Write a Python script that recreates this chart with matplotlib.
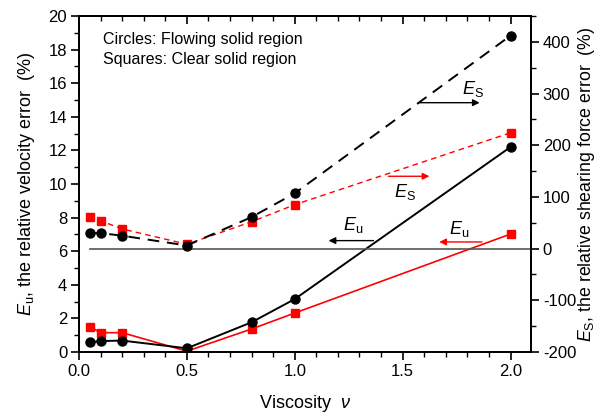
import matplotlib
matplotlib.use('Agg')
import matplotlib.pyplot as plt
from matplotlib.ticker import MultipleLocator, FormatStrFormatter

plt.rcParams['font.family'] = ['Liberation Sans', 'DejaVu Sans']
plt.rcParams['mathtext.fontset'] = 'custom'
plt.rcParams['mathtext.rm'] = 'Liberation Sans'
plt.rcParams['mathtext.it'] = 'Liberation Sans:italic'
plt.rcParams['axes.unicode_minus'] = False

# viscosity values
nu = [0.05, 0.1, 0.2, 0.5, 0.8, 1.0, 2.0]

# E_u (%), left axis
eu_flowing = [0.58, 0.65, 0.68, 0.22, 1.77, 3.15, 12.2]
eu_clear = [1.51, 1.15, 1.15, 0.05, 1.37, 2.32, 7.02]

# E_S (%), right axis
es_flowing = [30, 30, 25, 6, 61, 107, 412]
es_clear = [62, 54, 38, 8.5, 52, 85, 224]

zero_line_x = [0.05, 2.095]
zero_line_y = [0, 0]

fig = plt.figure(figsize=(5.98, 4.16), dpi=100)
ax = fig.add_axes([79 / 598, 1 - 352 / 416, 452 / 598, 336 / 416])
ax2 = ax.twinx()

ax.set_xlim(0, 2.095)
ax.set_ylim(0, 20)
ax2.set_ylim(-200, 450)

ax.plot(nu, eu_flowing, color='black', lw=1.4, marker='o', ms=6.5, zorder=3)
ax.plot(nu, eu_clear, color='red', lw=1.2, marker='s', ms=5.3, zorder=2)

ax2.plot(zero_line_x, zero_line_y, color='#555555', lw=1.2, zorder=1)
ax2.plot(nu, es_flowing, color='black', lw=1.4, ls=(0, (6, 4)), marker='o', ms=6.5, zorder=3)
ax2.plot(nu, es_clear, color='red', lw=1.0, ls=(0, (4, 3)), marker='s', ms=5.3, zorder=2)

# ticks
ax.xaxis.set_major_locator(MultipleLocator(0.5))
ax.xaxis.set_minor_locator(MultipleLocator(0.1))
ax.yaxis.set_major_locator(MultipleLocator(2))
ax.yaxis.set_minor_locator(MultipleLocator(1))
ax2.yaxis.set_major_locator(MultipleLocator(100))
ax2.yaxis.set_minor_locator(MultipleLocator(50))
ax.xaxis.set_major_formatter(FormatStrFormatter('%.1f'))
ax.tick_params(axis='x', which='both', direction='out', top=False, labelsize=12)
ax.tick_params(axis='y', which='both', direction='out', labelsize=12)
ax2.tick_params(axis='y', which='both', direction='out', labelsize=12)
for a in (ax, ax2):
    a.tick_params(which='major', length=5.5, width=1.2, pad=3)
    a.tick_params(which='minor', length=3.5, width=1.0)
    for s in a.spines.values():
        s.set_linewidth(1.3)

sec = ax.secondary_xaxis('top')
sec.xaxis.set_major_locator(MultipleLocator(0.5))
sec.xaxis.set_minor_locator(MultipleLocator(0.1))
sec.tick_params(which='both', direction='in', labeltop=False)
sec.tick_params(which='major', length=5.5, width=1.2)
sec.tick_params(which='minor', length=3.5, width=1.0)
sec.spines['top'].set_linewidth(1.3)

ax.set_xlabel(r'Viscosity  $\mathit{\nu}$', fontsize=13, labelpad=10)
ax.set_ylabel(r'$\mathit{E}_{\mathrm{u}}$, the relative velocity error  (%)', fontsize=13, labelpad=8)
ax2.set_ylabel(r'$\mathit{E}_{\mathrm{S}}$, the relative shearing force error  (%)', fontsize=12.8,
               rotation=90, labelpad=0)

ax.text(0.11, 18.6, 'Circles: Flowing solid region', fontsize=11.5, va='center')
ax.text(0.11, 17.4, 'Squares: Clear solid region', fontsize=11.5, va='center')

# arrows pointing to the axis each series belongs to
arrow_k = dict(arrowstyle='-|>', color='black', lw=1.0, mutation_scale=10)
arrow_r = dict(arrowstyle='-|>', color='red', lw=1.0, mutation_scale=10)
ax.annotate('', xy=(1.87, 14.84), xytext=(1.565, 14.84), arrowprops=arrow_k)
ax.text(1.824, 15.65, r'$\mathit{E}_{\mathrm{S}}$', fontsize=13, ha='center', va='center')
ax.annotate('', xy=(1.637, 10.46), xytext=(1.421, 10.46), arrowprops=arrow_r)
ax.text(1.509, 9.52, r'$\mathit{E}_{\mathrm{S}}$', fontsize=13, ha='center', va='center')
ax.annotate('', xy=(1.144, 6.63), xytext=(1.378, 6.63), arrowprops=arrow_k)
ax.text(1.269, 7.56, r'$\mathit{E}_{\mathrm{u}}$', fontsize=13, ha='center', va='center')
ax.annotate('', xy=(1.657, 6.55), xytext=(1.88, 6.55), arrowprops=arrow_r)
ax.text(1.76, 7.32, r'$\mathit{E}_{\mathrm{u}}$', fontsize=13, ha='center', va='center')

fig.savefig('out.png', dpi=100)
